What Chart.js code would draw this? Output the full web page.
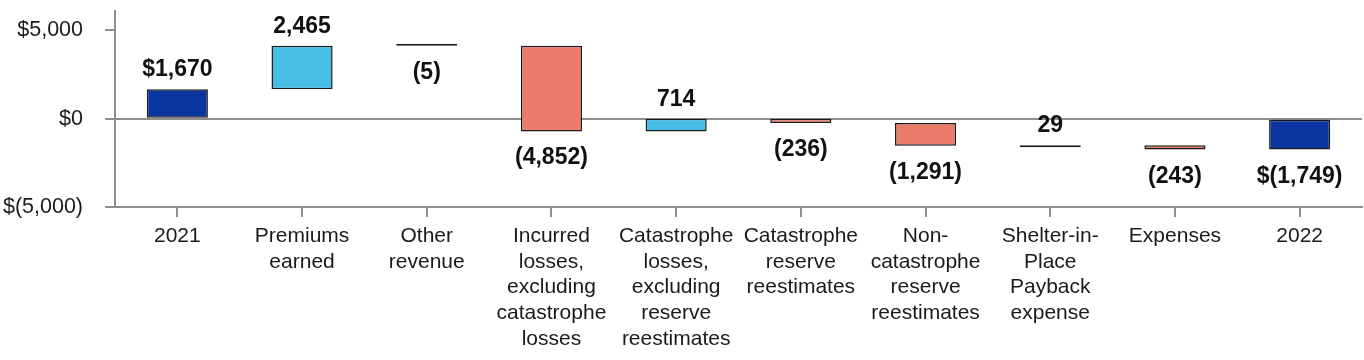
<!DOCTYPE html>
<html>
<head>
<meta charset="utf-8">
<script src="https://cdn.jsdelivr.net/npm/chart.js@4/dist/chart.umd.min.js"></script>
<style>
  html, body { margin: 0; padding: 0; background: #fff; }
  #wrap { width: 1364px; height: 360px; position: relative; }
</style>
</head>
<body>
<div id="wrap"><canvas id="c" width="1364" height="360"></canvas></div>
<script>
const categories = [
  ['2021'],
  ['Premiums', 'earned'],
  ['Other', 'revenue'],
  ['Incurred', 'losses,', 'excluding', 'catastrophe', 'losses'],
  ['Catastrophe', 'losses,', 'excluding', 'reserve', 'reestimates'],
  ['Catastrophe', 'reserve', 'reestimates'],
  ['Non-', 'catastrophe', 'reserve', 'reestimates'],
  ['Shelter-in-', 'Place', 'Payback', 'expense'],
  ['Expenses'],
  ['2022']
];
const changes = [1670, 2465, -5, -4852, 714, -236, -1291, 29, -243, -1749];
const isTotal = [true, false, false, false, false, false, false, false, false, true];
const yTicks = [-5000, 0, 5000];

const COL_TOTAL = '#0a35a1';
const COL_UP = '#46bde6';
const COL_DOWN = '#ec7b6a';

// floating ranges built from the changes
const ranges = [];
let running = 0;
changes.forEach((v, i) => {
  if (isTotal[i]) { ranges.push([0, v]); running = v; }
  else { ranges.push([running, running + v]); running += v; }
});
const colors = changes.map((v, i) => isTotal[i] ? COL_TOTAL : (v >= 0 ? COL_UP : COL_DOWN));

function fmtNum(v) {
  return Math.abs(v).toLocaleString('en-US');
}
function fmtLabel(v, i) {
  const s = fmtNum(v);
  const pre = isTotal[i] ? '$' : '';
  return v < 0 ? pre + '(' + s + ')' : pre + s;
}
function fmtTick(v) {
  return v < 0 ? '$(' + fmtNum(v) + ')' : '$' + fmtNum(v);
}

const labelPlugin = {
  id: 'valueLabels',
  afterDatasetsDraw(chart) {
    const ctx = chart.ctx;
    const meta = chart.getDatasetMeta(0);
    ctx.save();
    ctx.font = 'bold 23px "Liberation Sans", Arial, sans-serif';
    ctx.fillStyle = '#111';
    ctx.textAlign = 'center';
    ctx.textBaseline = 'alphabetic';
    meta.data.forEach((bar, i) => {
      const v = changes[i];
      const top = Math.min(bar.y, bar.base);
      const bottom = Math.max(bar.y, bar.base);
      const txt = fmtLabel(v, i);
      if (v >= 0) ctx.fillText(txt, bar.x, top - 13);
      else ctx.fillText(txt, bar.x, bottom + 33);
    });
    ctx.restore();
  }
};

const AXIS = '#8e8e8e';

new Chart(document.getElementById('c'), {
  type: 'bar',
  data: {
    labels: categories,
    datasets: [{
      data: ranges,
      backgroundColor: colors,
      borderColor: '#1a1a1a',
      borderWidth: 1.5,
      borderSkipped: false,
      barPercentage: 0.49,
      categoryPercentage: 1,
      minBarLength: 2
    }]
  },
  options: {
    responsive: false,
    animation: false,
    devicePixelRatio: 1,
    layout: { padding: { top: 11, right: 2, left: 0, bottom: 0 } },
    plugins: { legend: { display: false }, tooltip: { enabled: false } },
    scales: {
      x: {
        grid: { display: true, drawOnChartArea: false, offset: false, tickLength: 10, color: AXIS, lineWidth: 2 },
        border: { display: true, color: AXIS, width: 2 },
        ticks: {
          color: '#1a1a1a',
          padding: 6,
          maxRotation: 0,
          autoSkip: false,
          font: { family: '"Liberation Sans", Arial, sans-serif', size: 21, lineHeight: 1.23 }
        },
        afterFit(scale) { scale.height = 153; scale.paddingLeft = 0; scale.paddingRight = 0; }
      },
      y: {
        min: -5000,
        max: 6100,
        afterBuildTicks(scale) { scale.ticks = yTicks.map(v => ({ value: v })); },
        grid: {
          drawOnChartArea: true,
          tickLength: 10,
          lineWidth: 2,
          color: ctx => (ctx.tick && ctx.tick.value === 0) ? AXIS : 'rgba(0,0,0,0)',
          tickColor: AXIS
        },
        border: { display: true, color: AXIS, width: 2 },
        ticks: {
          color: '#1a1a1a',
          padding: 22,
          callback: v => fmtTick(v),
          font: { family: '"Liberation Sans", Arial, sans-serif', size: 21.5 }
        },
        afterFit(scale) { scale.width = 115; scale.paddingTop = 0; scale.paddingBottom = 0; }
      }
    }
  },
  plugins: [labelPlugin]
});
</script>
</body>
</html>
